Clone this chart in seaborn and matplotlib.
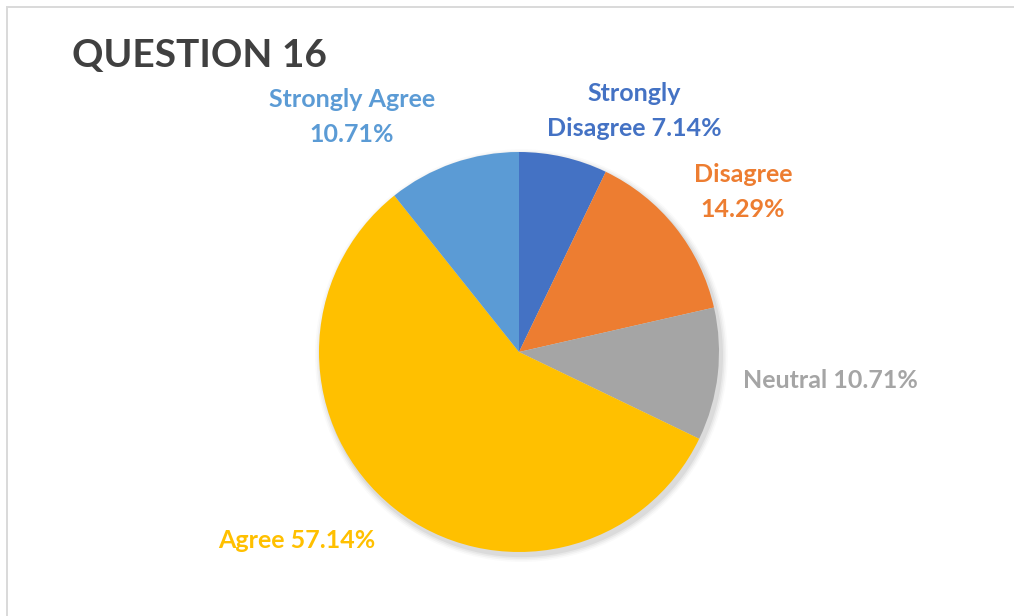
import matplotlib
matplotlib.use("Agg")
import matplotlib.pyplot as plt
from matplotlib.patches import Rectangle, Circle
import seaborn as sns
import numpy as np

# Survey responses for question 16 (percent of respondents)
categories = ["Strongly Disagree", "Disagree", "Neutral", "Agree", "Strongly Agree"]
shares = [7.14, 14.29, 10.71, 57.14, 10.71]
label_text = ["Strongly\nDisagree 7.14%", "Disagree\n14.29%", "Neutral 10.71%",
              "Agree 57.14%", "Strongly Agree\n10.71%"]
colors = ["#4472C4", "#ED7D31", "#A5A5A5", "#FFC000", "#5B9BD5"]

sns.set_theme(style="white")
plt.rcParams["font.family"] = ["Lato", "DejaVu Sans"]

W, H = 1014, 616
fig = plt.figure(figsize=(W / 100, H / 100), dpi=100)
fig.patch.set_facecolor("white")

# chart-area frame (open toward right and bottom edges)
fig.add_artist(Rectangle((7 / W, -0.05), 1.1, 1.05 - 7 / H,
                         transform=fig.transFigure, fill=False,
                         edgecolor="#D9D9D9", linewidth=1.4))

# pie axes: centre (519, 352) px, radius 200 px
cx, cy, r = 519, 352, 200
ax = fig.add_axes([(cx - r) / W, (H - cy - r) / H, 2 * r / W, 2 * r / H])

wedges, _ = ax.pie(shares, colors=colors, startangle=90, counterclock=False,
                   radius=1.0, wedgeprops=dict(linewidth=0, clip_on=False),
                   normalize=True)
ax.set_xlim(-1, 1)
ax.set_ylim(-1, 1)
ax.set_aspect("equal")
ax.axis("off")

# soft shadow under the pie
for i, a in enumerate([0.05, 0.04, 0.03, 0.02]):
    ax.add_patch(Circle((0.012, -0.018), 1.0 + 0.008 * (i + 1), color="black",
                        alpha=a, lw=0, zorder=0, clip_on=False))

# label placement relative to the pie (in radii)
label_pos = [(0.575, 1.205), (1.12, 0.80), (1.555, -0.145), (-1.11, -0.945), (-0.835, 1.175)]
for (lx, ly), txt, c in zip(label_pos, label_text, colors):
    ax.text(lx, ly, txt, ha="center", va="center", color=c, fontsize=18,
            fontweight="bold", linespacing=1.6, clip_on=False)

fig.text(72 / W, 1 - 55 / H, "QUESTION 16", ha="left", va="center",
         fontsize=28, fontweight="bold", color="#404040")

fig.savefig("out.png", dpi=100, facecolor="white")
